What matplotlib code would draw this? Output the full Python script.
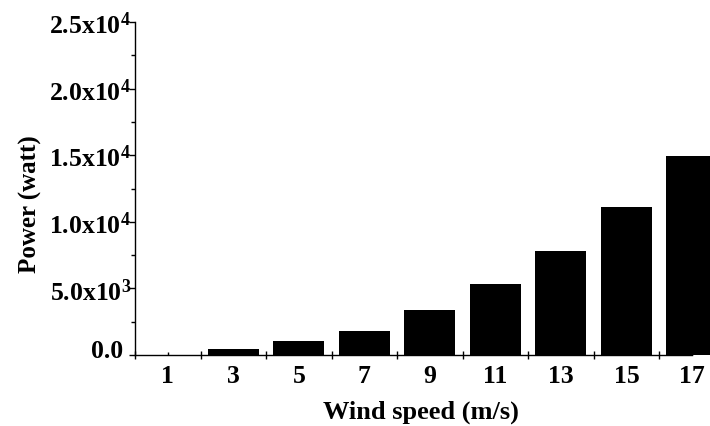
import matplotlib
matplotlib.use("Agg")
import matplotlib.pyplot as plt
from matplotlib.ticker import FixedLocator, FuncFormatter, MultipleLocator
from matplotlib.transforms import ScaledTranslation

plt.rcParams['font.family'] = ['Liberation Serif', 'DejaVu Serif']
plt.rcParams['mathtext.fontset'] = 'custom'
plt.rcParams['mathtext.rm'] = 'Liberation Serif'
plt.rcParams['mathtext.bf'] = 'Liberation Serif:bold'
plt.rcParams['mathtext.it'] = 'Liberation Serif:italic'

wind_speeds = ["1", "3", "5", "7", "9", "11", "13", "15", "17"]
power = [0, 450, 1030, 1780, 3360, 5350, 7830, 11090, 14920]
y_ticks = [0, 5000, 10000, 15000, 20000, 25000]
y_tick_labels = ["0.0", r"$\mathbf{5.0x10^{3}}$", r"$\mathbf{1.0x10^{4}}$",
                 r"$\mathbf{1.5x10^{4}}$", r"$\mathbf{2.0x10^{4}}$", r"$\mathbf{2.5x10^{4}}$"]

W, H = 710, 426
fig = plt.figure(figsize=(W / 100, H / 100), dpi=100)
left, right, top, bottom = 135, 692, 22, 355
aw = right - left
ax = fig.add_axes([left / W, 1 - bottom / H, aw / W, (bottom - top) / H])

x = list(range(len(wind_speeds)))
ax.bar(x, power, width=0.78, color='black', edgecolor='black', linewidth=0, clip_on=False, zorder=3)

ax.set_xlim(-0.5, len(wind_speeds) - 1)
ax.set_ylim(0, 25000)

for s in ['top', 'right']:
    ax.spines[s].set_visible(False)
for s in ['left', 'bottom']:
    ax.spines[s].set_linewidth(1.0)

# x axis: major ticks at boundaries, labels at centers via minor ticks
ax.xaxis.set_major_locator(FixedLocator([i - 0.5 for i in range(len(wind_speeds))]))
ax.xaxis.set_major_formatter(FuncFormatter(lambda v, p: ""))
ax.xaxis.set_minor_locator(FixedLocator(x))
ax.set_xticklabels(wind_speeds, minor=True)
ax.tick_params(axis='x', which='major', direction='inout', length=5.5, width=1.0)
ax.tick_params(axis='x', which='minor', direction='in', length=2.5, width=1.0, pad=7,
               labelsize=18.5)
for lbl in ax.get_xticklabels(minor=True):
    lbl.set_fontweight('bold')

# y axis: ticks, labels drawn as text so that the base numbers align
ax.set_yticks(y_ticks)
ax.set_yticklabels([""] * len(y_ticks))
ax.yaxis.set_minor_locator(MultipleLocator(2500))
ax.tick_params(axis='y', which='major', direction='out', length=4, width=1.0)
ax.tick_params(axis='y', which='minor', direction='out', length=3, width=1.0)
ytr = ax.get_yaxis_transform()
for val, lab in zip(y_ticks, y_tick_labels):
    has_exp = '^' in lab
    xr = 131 if has_exp else 123
    dy = 12 if has_exp else 3
    tr = ytr + ScaledTranslation(0, -dy / 100, fig.dpi_scale_trans)
    ax.text((xr - left) / aw, val, lab, transform=tr, ha='right', va='baseline',
            fontsize=18.5, fontweight='bold', clip_on=False)

ax.set_ylabel("Power (watt)", fontsize=18, fontweight='bold')
ax.yaxis.set_label_coords((42 - left) / aw, (bottom - 204) / (bottom - top))
fig.text(421 / W, 1 - 412 / H, "Wind speed (m/s)", fontsize=19, fontweight='bold',
         ha='center', va='center')

fig.savefig("out.png", dpi=100)
